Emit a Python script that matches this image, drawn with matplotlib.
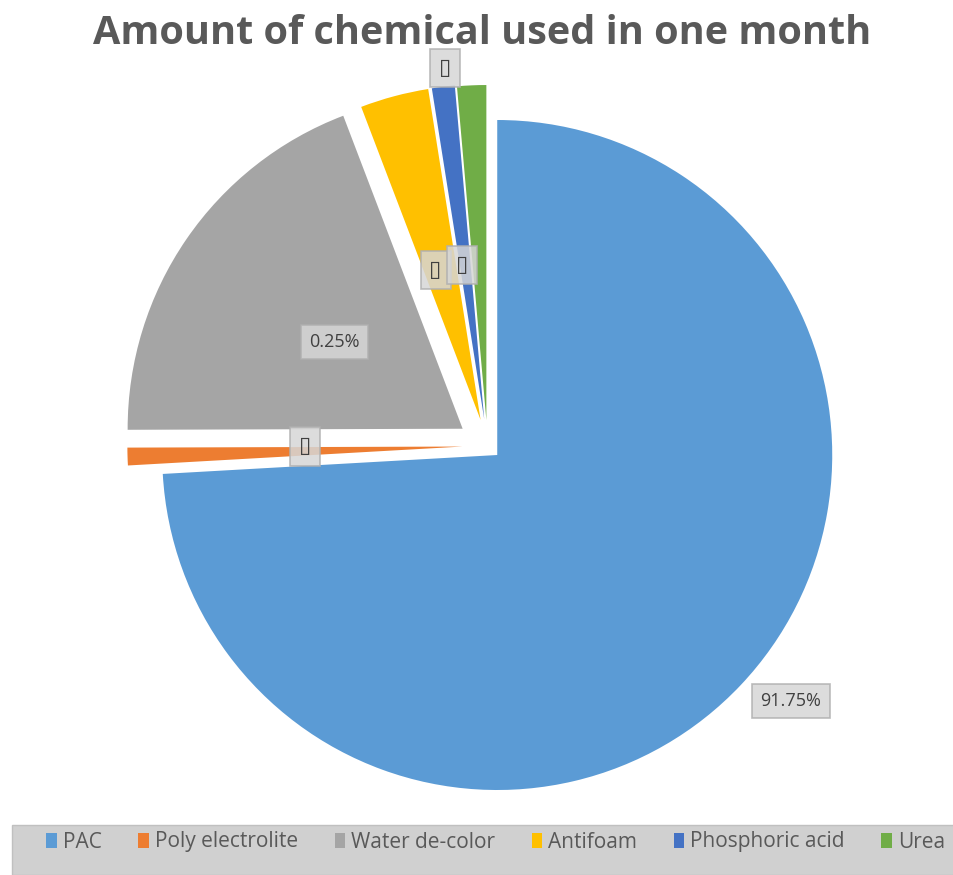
import numpy as np
import matplotlib.pyplot as plt
from matplotlib.patches import Rectangle, Patch

chemicals = ["PAC", "Poly electrolite", "Water de-color", "Antifoam",
             "Phosphoric acid", "Urea"]
amounts = [74.1, 0.85, 19.25, 3.3, 1.1, 1.4]
label_text = ["91.75%", "\u25af", "0.25%", "\u25af", "\u25af", "\u25af"]

colors = ["#5B9BD5", "#ED7D31", "#A5A5A5", "#FFC000", "#4472C4", "#70AD47"]
explode = [0.04, 0.075, 0.09, 0.08, 0.08, 0.077]
# where each label sits: distance from wedge centre, turn from mid angle
label_r = [1.1435, 0.47, 0.461, 0.467, 0.465, 1.058]
label_turn = [3.45, -1.6, 0.3, 1.8, 1.3, 4.2]

W, H = 954, 875
fig = plt.figure(figsize=(W / 100, H / 100), dpi=100)
ax = fig.add_axes([85.5 / W, 27.2 / H, 804 / W, 804 / H])

wedges, _ = ax.pie(amounts, colors=colors, explode=explode, startangle=90,
                   counterclock=False, wedgeprops=dict(linewidth=0))
ax.set_xlim(-1.2, 1.2)
ax.set_ylim(-1.2, 1.2)
ax.set_aspect("equal")
ax.axis("off")

for w, txt, r, turn in zip(wedges, label_text, label_r, label_turn):
    mid = np.deg2rad((w.theta1 + w.theta2) / 2 + turn)
    cx, cy = w.center
    x = cx + r * np.cos(mid)
    y = cy + r * np.sin(mid)
    if txt.endswith("%"):
        size, pad = 13, 0.45
    else:
        size, pad = 16, 0.4
    ax.text(x, y, txt, ha="center", va="center", fontsize=size,
            color="#404040", family=["Open Sans", "DejaVu Sans"],
            bbox=dict(boxstyle=f"square,pad={pad}", facecolor="#d6d6d6",
                      edgecolor="#b0b0b0", alpha=0.85, linewidth=1.2))

fig.text(0.505, 0.962, "Amount of chemical used in one month",
         ha="center", va="center", fontsize=28.5, fontweight="bold",
         color="#595959", family="Open Sans")

# legend band along the bottom
fig.patches.append(Rectangle((12 / W, 0), 1 - 12 / W, 50 / H,
                             transform=fig.transFigure, facecolor="#d0d0d0",
                             edgecolor="#c0c0c0", linewidth=1, zorder=0))
handles = [Patch(facecolor=c, edgecolor="none") for c in colors]
fig.legend(handles, chemicals, ncol=6, loc="center left",
           bbox_to_anchor=(38 / W, 33 / H), frameon=False,
           prop=dict(family="Open Sans", size=15), labelcolor="#595959",
           handlelength=0.5, handleheight=0.7, handletextpad=0.3,
           columnspacing=1.75, borderaxespad=0)

fig.savefig("out.png", dpi=100)
